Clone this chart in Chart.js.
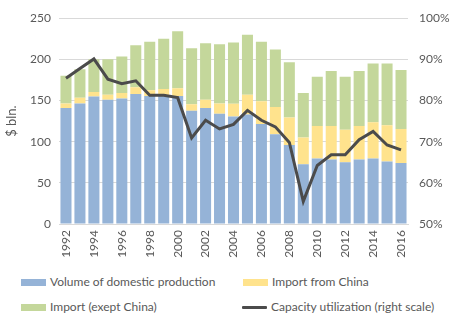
<!DOCTYPE html>
<html>
<head>
<meta charset="utf-8">
<script src="https://cdn.jsdelivr.net/npm/chart.js@4"></script>
<style>
  body { margin: 0; background: #fff; }
  #wrap { position: relative; width: 453px; height: 322px; font-family: Lato, sans-serif; }
  #chart-box { position: absolute; left: 0; top: 0; width: 453px; height: 262px; }
  .legend-item { position: absolute; font-size: 12px; color: #595959; white-space: nowrap; line-height: 14px; }
  .swatch { position: absolute; width: 25px; height: 7px; top: 4px; }
  .swatch.line { height: 3px; top: 6px; border-radius: 1px; }
  .legend-item span.txt { position: absolute; left: 29px; top: 0; }
</style>
</head>
<body>
<div id="wrap">
  <div id="chart-box"><canvas id="industry-chart"></canvas></div>
  <div id="legend"></div>
</div>
<script>
// Years on the x axis
const years = ['1992', '1993', '1994', '1995', '1996', '1997', '1998', '1999', '2000', '2001',
  '2002', '2003', '2004', '2005', '2006', '2007', '2008', '2009', '2010', '2011',
  '2012', '2013', '2014', '2015', '2016'];

// Domestic production volume, $ bln.
const domesticProduction = [141, 146.5, 155, 151, 152.5, 158, 155.5, 155.5, 155.5, 137.5,
  141, 134, 130.5, 133, 121.5, 109, 96, 72.5, 79.5, 78.5,
  75, 78.5, 79.5, 76, 74];

// Import from China, $ bln. (segment height)
const importChina = [5.5, 7, 5.5, 6, 6.5, 8, 7, 8.5, 9.5, 8,
  10, 12.5, 15.5, 24, 27.5, 33, 33.5, 32.5, 39.5, 40.5,
  39.5, 40.5, 44, 44, 41.5];

// Import from other countries, $ bln. (segment height)
const importOther = [33.5, 34.5, 39.5, 43, 44.5, 51, 59, 61, 69, 68,
  68.5, 72, 74.5, 73, 72.5, 70, 67, 54, 60, 67,
  64.5, 67, 71.5, 75, 71.5];

// Capacity utilization, % (right scale)
const capacityUtilization = [85.4, 87.8, 90.1, 85.2, 84.1, 84.8, 81.3, 81.3, 80.7, 70.9,
  75.2, 73.1, 74.2, 77.6, 75.2, 73.6, 69.8, 55.5, 64.2, 66.8,
  66.8, 70.5, 72.5, 69.2, 68];

const colors = {
  domestic: '#95b3d7',
  china: '#ffe38d',
  other: '#c4d79b',
  line: '#4b4b4b',
  text: '#595959',
  grid: '#d9d9d9'
};

const tickFont = { family: 'Lato, sans-serif', size: 12 };

const ctx = document.getElementById('industry-chart').getContext('2d');

const industryChart = new Chart(ctx, {
  type: 'bar',
  data: {
    labels: years,
    datasets: [
      {
        type: 'line',
        label: 'Capacity utilization (right scale)',
        data: capacityUtilization,
        yAxisID: 'yRight',
        borderColor: colors.line,
        backgroundColor: colors.line,
        borderWidth: 3,
        pointRadius: 0,
        tension: 0,
        order: 0
      },
      {
        label: 'Volume of domestic production',
        data: domesticProduction,
        backgroundColor: colors.domestic,
        stack: 'total',
        order: 1
      },
      {
        label: 'Import from China',
        data: importChina,
        backgroundColor: colors.china,
        stack: 'total',
        order: 1
      },
      {
        label: 'Import (exept China)',
        data: importOther,
        backgroundColor: colors.other,
        stack: 'total',
        order: 1
      }
    ]
  },
  options: {
    responsive: true,
    maintainAspectRatio: false,
    animation: false,
    categoryPercentage: 0.79,
    barPercentage: 1,
    layout: { padding: { top: 7, left: 0, right: 0, bottom: 0 } },
    plugins: {
      legend: { display: false },
      tooltip: { enabled: false }
    },
    scales: {
      x: {
        stacked: true,
        grid: { display: false, drawTicks: false },
        border: { display: true, color: colors.grid },
        ticks: {
          color: colors.text,
          font: tickFont,
          autoSkip: false,
          minRotation: 90,
          maxRotation: 90,
          padding: 6,
          callback: function (value, index) {
            return index % 2 === 0 ? years[index] : '';
          }
        },
        afterFit: function (scale) { scale.height = 38; }
      },
      y: {
        stacked: true,
        position: 'left',
        min: 0,
        max: 250,
        ticks: { stepSize: 50, color: colors.text, font: tickFont, padding: 8 },
        grid: { color: colors.grid, drawTicks: false },
        border: { display: false },
        title: { display: true, text: '$ bln.', color: colors.text, font: { family: 'Lato, sans-serif', size: 13 }, padding: 4 },
        afterFit: function (scale) { scale.width = 59; }
      },
      yRight: {
        position: 'right',
        min: 50,
        max: 100,
        ticks: {
          stepSize: 10,
          color: colors.text,
          font: tickFont,
          padding: 11,
          callback: function (value) { return value + '%'; }
        },
        grid: { display: false, drawTicks: false },
        border: { display: false },
        afterFit: function (scale) { scale.width = 45; }
      }
    }
  }
});

// Legend laid out in two columns under the chart
const legendItems = [
  { label: 'Volume of domestic production', color: colors.domestic, x: 21, y: 275, line: false },
  { label: 'Import from China', color: colors.china, x: 243, y: 275, line: false },
  { label: 'Import (exept China)', color: colors.other, x: 21, y: 300, line: false },
  { label: 'Capacity utilization (right scale)', color: colors.line, x: 242, y: 300, line: true }
];

const legendEl = document.getElementById('legend');
legendItems.forEach(item => {
  const div = document.createElement('div');
  div.className = 'legend-item';
  div.style.left = item.x + 'px';
  div.style.top = item.y + 'px';
  const sw = document.createElement('div');
  sw.className = item.line ? 'swatch line' : 'swatch';
  sw.style.background = item.color;
  const txt = document.createElement('span');
  txt.className = 'txt';
  txt.textContent = item.label;
  div.appendChild(sw);
  div.appendChild(txt);
  legendEl.appendChild(div);
});
</script>
</body>
</html>
